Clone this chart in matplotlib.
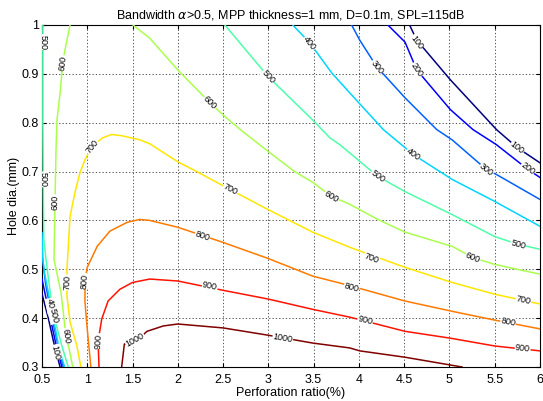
import numpy as np
import matplotlib
matplotlib.use("Agg")
import matplotlib.pyplot as plt

plt.rcParams['font.family'] = ['Liberation Sans', 'DejaVu Sans']

# contour levels (bandwidth, Hz) and the traced iso-lines, perforation ratio (%) vs hole dia (mm)
levels = [100, 200, 300, 400, 500, 600, 700, 800, 900, 1000]

# lines near the left edge (small perforation ratio)
c100_left_x = [0.50, 0.57, 0.63, 0.70]
c100_left_y = [0.45, 0.40, 0.35, 0.30]
c200_left_x = [0.50, 0.58, 0.65, 0.72]
c200_left_y = [0.48, 0.41, 0.35, 0.30]
c300_left_x = [0.50, 0.54, 0.60, 0.67, 0.735]
c300_left_y = [0.53, 0.47, 0.41, 0.35, 0.30]
c400_left_x = [0.50, 0.51, 0.53, 0.60, 0.69, 0.75]
c400_left_y = [0.575, 0.52, 0.49, 0.425, 0.337, 0.30]
c500_left_x = [0.51, 0.51, 0.515, 0.52, 0.545, 0.60, 0.63, 0.73, 0.79]
c500_left_y = [1.0, 0.80, 0.65, 0.561, 0.52, 0.439, 0.404, 0.337, 0.30]
c600_left_x = [0.81, 0.754, 0.73, 0.70, 0.666, 0.655, 0.644, 0.633, 0.71, 0.765, 0.80, 0.84]
c600_left_y = [1.0, 0.949, 0.922, 0.861, 0.806, 0.745, 0.637, 0.52, 0.453, 0.363, 0.337, 0.30]

# lines on the right / top side
c100_x = [4.56, 4.64, 5.01, 5.52, 5.75, 6.0]
c100_y = [1.0, 0.969, 0.888, 0.786, 0.749, 0.718]
c200_x = [4.32, 4.51, 4.64, 5.01, 5.26, 5.52, 5.87, 6.0]
c200_y = [1.0, 0.965, 0.908, 0.827, 0.786, 0.755, 0.704, 0.688]
c300_x = [3.92, 4.01, 4.20, 4.51, 4.86, 5.03, 5.41, 5.52, 6.0]
c300_y = [1.0, 0.969, 0.914, 0.851, 0.786, 0.765, 0.704, 0.694, 0.643]
c400_x = [3.27, 3.46, 3.70, 3.90, 4.27, 4.60, 5.03, 5.50, 6.0]
c400_y = [1.0, 0.963, 0.902, 0.861, 0.786, 0.735, 0.684, 0.639, 0.588]
c500_x = [2.52, 3.0, 3.51, 3.68, 3.79, 4.21, 4.51, 5.03, 5.50, 5.76, 6.0]
c500_y = [1.0, 0.894, 0.802, 0.769, 0.755, 0.690, 0.659, 0.612, 0.567, 0.551, 0.541]
c600_x = [1.505, 1.69, 2.0, 2.355, 2.5, 2.69, 3.0, 3.29, 3.49, 3.70, 3.90, 4.21, 4.51, 5.03, 5.26, 5.50, 6.0]
c600_y = [1.0, 0.973, 0.908, 0.841, 0.816, 0.786, 0.741, 0.70, 0.678, 0.649, 0.633, 0.602, 0.576, 0.547, 0.524, 0.51, 0.49]

# arches around the peak
c700_x = [0.93, 0.886, 0.81, 0.776, 0.776, 0.81, 0.864, 0.92, 0.975, 1.05, 1.17, 1.27, 1.39, 1.58, 1.69,
          2.0, 2.21, 2.58, 3.0, 3.49, 3.90, 4.51, 5.03, 5.50, 6.0]
c700_y = [0.30, 0.343, 0.392, 0.445, 0.50, 0.608, 0.657, 0.698, 0.724, 0.751, 0.769, 0.776, 0.773, 0.765, 0.757,
          0.720, 0.70, 0.663, 0.622, 0.576, 0.545, 0.504, 0.473, 0.449, 0.429]
c800_x = [1.04, 1.0, 0.975, 0.975, 1.0, 1.11, 1.25, 1.44, 1.58, 1.69, 2.0, 2.5, 3.0, 3.49, 3.85, 4.51, 5.03, 5.50, 6.0]
c800_y = [0.30, 0.378, 0.433, 0.476, 0.504, 0.547, 0.578, 0.596, 0.602, 0.600, 0.586, 0.555, 0.522, 0.486, 0.469,
          0.435, 0.414, 0.396, 0.378]
c900_x = [1.13, 1.12, 1.16, 1.23, 1.36, 1.50, 1.69, 2.0, 2.5, 3.0, 3.49, 3.90, 4.51, 5.01, 5.50, 6.0]
c900_y = [0.30, 0.353, 0.398, 0.435, 0.459, 0.473, 0.480, 0.476, 0.457, 0.439, 0.418, 0.402, 0.373, 0.359, 0.343, 0.333]
c1000_x = [1.38, 1.41, 1.53, 1.66, 1.84, 2.0, 2.5, 3.0, 3.49, 3.90, 4.01, 4.51, 5.14]
c1000_y = [0.30, 0.347, 0.351, 0.373, 0.384, 0.388, 0.380, 0.365, 0.349, 0.339, 0.333, 0.320, 0.30]

lines = [
    (100, c100_left_x, c100_left_y), (200, c200_left_x, c200_left_y),
    (300, c300_left_x, c300_left_y), (400, c400_left_x, c400_left_y),
    (500, c500_left_x, c500_left_y), (600, c600_left_x, c600_left_y),
    (100, c100_x, c100_y), (200, c200_x, c200_y), (300, c300_x, c300_y),
    (400, c400_x, c400_y), (500, c500_x, c500_y), (600, c600_x, c600_y),
    (700, c700_x, c700_y), (800, c800_x, c800_y), (900, c900_x, c900_y),
    (1000, c1000_x, c1000_y),
]

# inline labels: (level, x, y, index of line in 'lines')
labels = [
    (100, 0.655, 0.33, 0), (400, 0.60, 0.425, 3), (500, 0.63, 0.404, 4),
    (500, 0.51, 0.965, 4), (500, 0.515, 0.684, 4),
    (600, 0.73, 0.922, 5), (600, 0.645, 0.637, 5), (600, 0.765, 0.363, 5),
    (100, 4.64, 0.965, 6), (100, 5.75, 0.749, 6),
    (200, 4.64, 0.908, 7), (200, 5.87, 0.707, 7),
    (300, 4.20, 0.914, 8), (300, 5.41, 0.704, 8),
    (400, 3.46, 0.963, 9), (400, 4.60, 0.735, 9),
    (500, 3.0, 0.894, 10), (500, 4.21, 0.690, 10), (500, 5.76, 0.551, 10),
    (600, 2.355, 0.841, 11), (600, 3.70, 0.649, 11), (600, 5.26, 0.524, 11),
    (700, 1.05, 0.751, 12), (700, 0.776, 0.473, 12), (700, 2.58, 0.663, 12),
    (700, 4.14, 0.522, 12), (700, 5.82, 0.437, 12),
    (800, 0.975, 0.476, 13), (800, 2.27, 0.567, 13), (800, 3.92, 0.463, 13), (800, 5.65, 0.392, 13),
    (900, 1.12, 0.353, 14), (900, 2.355, 0.465, 14), (900, 4.07, 0.395, 14), (900, 5.81, 0.338, 14),
    (1000, 1.53, 0.355, 15), (1000, 3.16, 0.359, 15),
]

xticks = [0.5, 1, 1.5, 2, 2.5, 3, 3.5, 4, 4.5, 5, 5.5, 6]
xticklabels = ['0.5', '1', '1.5', '2', '2.5', '3', '3.5', '4', '4.5', '5', '5.5', '6']
yticks = [0.3, 0.4, 0.5, 0.6, 0.7, 0.8, 0.9, 1.0]
yticklabels = ['0.3', '0.4', '0.5', '0.6', '0.7', '0.8', '0.9', '1']

colors = plt.cm.jet(np.linspace(0, 1, len(levels)))

fig = plt.figure(figsize=(5.43, 4.01), dpi=100)
ax = fig.add_axes([0.0773, 0.0848, 0.917, 0.8529])
ax.set_xlim(0.5, 6)
ax.set_ylim(0.3, 1.0)

for lev, xs, ys in lines:
    ax.plot(xs, ys, color=colors[levels.index(lev)], lw=1.1, zorder=3, clip_on=True)

fig.canvas.draw()
for lev, lx, ly, idx in labels:
    _, xs, ys = lines[idx]
    pts = ax.transData.transform(np.column_stack([xs, ys]))
    p = ax.transData.transform((lx, ly))
    d = np.hypot(pts[:, 0] - p[0], pts[:, 1] - p[1])
    i = int(np.argmin(d))
    a, b = max(i - 1, 0), min(i + 1, len(xs) - 1)
    ang = np.degrees(np.arctan2(pts[b, 1] - pts[a, 1], pts[b, 0] - pts[a, 0]))
    if ang > 90:
        ang -= 180
    elif ang < -90:
        ang += 180
    ax.text(lx, ly, str(lev), fontsize=6.5, rotation=ang, rotation_mode='anchor',
            ha='center', va='center', zorder=4,
            bbox=dict(facecolor='white', edgecolor='none', pad=0.3), clip_on=True)

ax.set_xticks(xticks)
ax.set_xticklabels(xticklabels)
ax.set_yticks(yticks)
ax.set_yticklabels(yticklabels)
ax.tick_params(direction='in', top=True, right=True, labelsize=9, length=3, pad=2)
ax.tick_params(axis='x', pad=5)
ax.grid(True, color='0.2', linestyle=(0, (1.5, 2.5)), linewidth=0.6)
for s in ax.spines.values():
    s.set_linewidth(0.8)

ax.set_title(r'Bandwidth $\alpha$>0.5, MPP thickness=1 mm, D=0.1m, SPL=115dB', fontsize=9, pad=5)
ax.set_xlabel('Perforation ratio(%)', fontsize=9, labelpad=1)
ax.set_ylabel('Hole dia.(mm)', fontsize=9, labelpad=1)

fig.savefig('out.png', dpi=100)
